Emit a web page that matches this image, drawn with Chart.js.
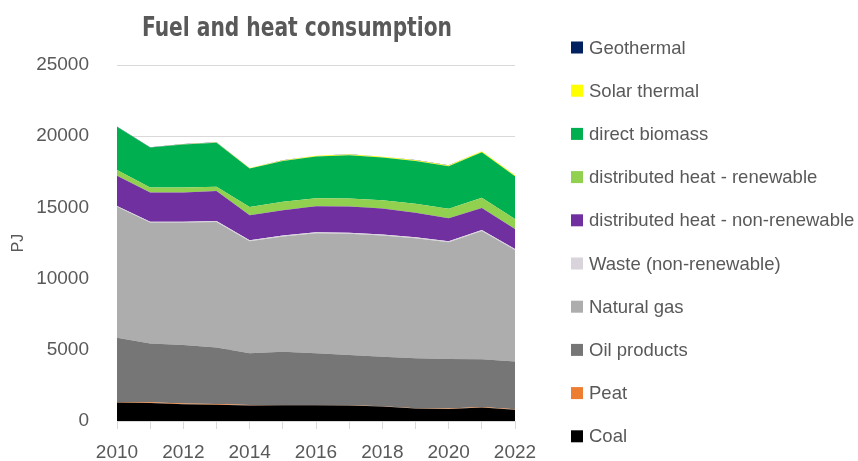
<!DOCTYPE html>
<html>
<head>
<meta charset="utf-8">
<script src="https://cdn.jsdelivr.net/npm/chart.js@4.4.1/dist/chart.umd.min.js"></script>
<style>
  html, body { margin: 0; padding: 0; background: #ffffff; }
  #wrap { width: 858px; height: 461px; }
</style>
</head>
<body>
<div id="wrap"><canvas id="c" width="858" height="461"></canvas></div>
<script>
// Fuel and heat consumption by source, PJ
const years = ['2010','2011','2012','2013','2014','2015','2016','2017','2018','2019','2020','2021','2022'];

const coal            = [1300, 1270, 1180, 1140, 1090, 1100, 1100, 1080, 1010,  880,  850,  950,  790];
const peat            = [  30,   40,   50,   50,   30,   20,   20,   20,   20,   20,   20,   40,   40];
const oilProducts     = [4520, 4140, 4110, 3980, 3640, 3750, 3630, 3540, 3490, 3510, 3480, 3340, 3340];
const naturalGas      = [9190, 8490, 8600, 8810, 7860, 8080, 8430, 8510, 8500, 8420, 8200, 9010, 7830];
const waste           = [  60,   60,   60,   60,   70,   70,   70,   70,   70,   70,   70,   70,   70];
const heatNonRenew    = [2130, 2050, 2050, 2110, 1760, 1780, 1830, 1840, 1830, 1730, 1620, 1550, 1410];
const heatRenew       = [ 400,  350,  350,  300,  570,  600,  570,  570,  580,  630,  670,  720,  700];
const directBiomass   = [3030, 2800, 3020, 3090, 2710, 2860, 2930, 3040, 3000, 2990, 2980, 3190, 3000];
const solarThermal    = [  10,   15,   20,   25,   35,   40,   45,   50,   55,   60,   60,   65,   70];
const geothermal      = [   5,    5,    5,    5,    5,    5,   10,   10,   10,   10,   10,   10,   10];

const yTicksMax = 25000;
const yTickStep = 5000;

const TEXT = '#595959';
const BASE_FONT = "'Liberation Sans', Arial, sans-serif";

function area(label, data, color, fill) {
  return {
    label, data,
    backgroundColor: color,
    borderColor: color,
    borderWidth: 0,
    pointRadius: 0,
    pointHoverRadius: 0,
    tension: 0,
    fill
  };
}

const datasets = [
  area('Coal', coal, '#000000', 'origin'),
  area('Peat', peat, '#ED7D31', '-1'),
  area('Oil products', oilProducts, '#767676', '-1'),
  area('Natural gas', naturalGas, '#ADADAD', '-1'),
  area('Waste (non-renewable)', waste, '#D9D4DC', '-1'),
  area('distributed heat - non-renewable', heatNonRenew, '#7030A0', '-1'),
  area('distributed heat - renewable', heatRenew, '#92D050', '-1'),
  area('direct biomass', directBiomass, '#00B050', '-1'),
  area('Solar thermal', solarThermal, '#FFFF00', '-1'),
  area('Geothermal', geothermal, '#002060', '-1')
];

// Title in a narrow bold face, centred above the plot
const titlePlugin = {
  id: 'fuelTitle',
  afterDraw(chart) {
    const ctx = chart.ctx;
    const text = 'Fuel and heat consumption';
    const targetWidth = 310;
    ctx.save();
    ctx.fillStyle = TEXT;
    ctx.font = "bold 27px 'DejaVu Sans Condensed', 'Liberation Sans', sans-serif";
    ctx.textAlign = 'center';
    ctx.textBaseline = 'alphabetic';
    const w = ctx.measureText(text).width;
    const sx = Math.min(1, targetWidth / w);
    ctx.translate(297, 36);
    ctx.scale(sx, 1);
    ctx.fillText(text, 0, 0);
    ctx.restore();
  }
};

// Legend column on the right, top series first
const legendPlugin = {
  id: 'sideLegend',
  afterDraw(chart) {
    const ctx = chart.ctx;
    const items = chart.data.datasets.slice().reverse();
    const boxX = 571, boxSize = 12, textX = 589, y0 = 47.5, step = 43.2;
    ctx.save();
    ctx.font = "18.5px " + BASE_FONT;
    ctx.textBaseline = 'middle';
    ctx.textAlign = 'left';
    items.forEach((ds, i) => {
      const cy = y0 + i * step;
      ctx.fillStyle = ds.backgroundColor;
      ctx.fillRect(boxX, cy - boxSize / 2, boxSize, boxSize);
      ctx.fillStyle = TEXT;
      ctx.fillText(ds.label, textX, cy + 1);
    });
    ctx.restore();
  }
};

new Chart(document.getElementById('c'), {
  type: 'line',
  data: { labels: years, datasets },
  plugins: [titlePlugin, legendPlugin],
  options: {
    responsive: false,
    animation: false,
    devicePixelRatio: 1,
    layout: { padding: { top: 65, right: 343, bottom: 0, left: 0 } },
    plugins: {
      legend: { display: false },
      title: { display: false },
      tooltip: { enabled: false }
    },
    elements: { line: { borderWidth: 0 } },
    scales: {
      x: {
        type: 'category',
        offset: false,
        grid: {
          drawOnChartArea: false,
          drawTicks: true,
          tickLength: 8,
          color: '#D9D9D9'
        },
        border: { display: true, color: '#D9D9D9' },
        ticks: {
          autoSkip: false,
          maxRotation: 0,
          minRotation: 0,
          padding: 12,
          color: TEXT,
          font: { family: BASE_FONT, size: 19 },
          callback: (v, i) => (i % 2 === 0 ? years[i] : '')
        },
        afterFit: (s) => { s.height = 40; }
      },
      y: {
        stacked: true,
        min: 0,
        max: yTicksMax,
        grid: { color: '#D9D9D9', drawTicks: false },
        border: { display: false },
        ticks: {
          stepSize: yTickStep,
          padding: 28,
          color: TEXT,
          font: { family: BASE_FONT, size: 19 },
          callback: (v) => String(v)
        },
        title: {
          display: true,
          text: 'PJ',
          color: TEXT,
          font: { family: BASE_FONT, size: 16 },
          padding: { top: 9, bottom: 0 }
        },
        afterFit: (s) => { s.width = 117; }
      }
    }
  }
});
</script>
</body>
</html>
